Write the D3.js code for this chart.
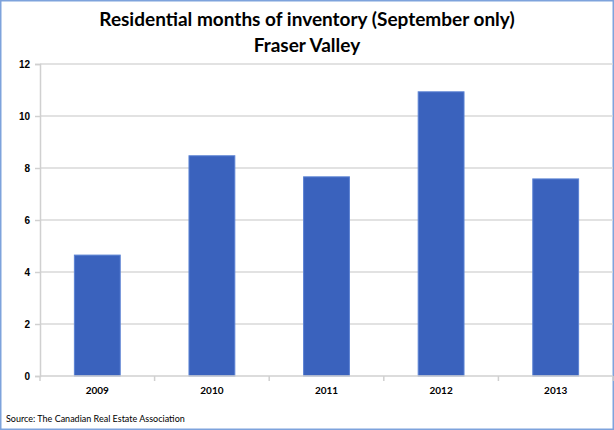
<!DOCTYPE html>
<html>
<head>
<meta charset="utf-8">
<script src="https://cdn.jsdelivr.net/npm/d3@7"></script>
<style>
    body { margin: 0; background: #fff; }
    svg { display: block; font-family: Lato, "Open Sans", sans-serif; }
</style>
</head>
<body>
<div id="wrapper"></div>
<script>
// data
const years = ['2009', '2010', '2011', '2012', '2013'];
const monthsOfInventory = [4.65, 8.47, 7.66, 10.93, 7.58];
const yTicks = [0, 2, 4, 6, 8, 10, 12];
const titleLines = ['Residential months of inventory (September only)', 'Fraser Valley'];
const sourceText = 'Source: The Canadian Real Estate Association';

function drawChart() {
    const dimensions = {
        width: 614,
        height: 430,
        margin: { top: 64, right: 1, bottom: 54, left: 40 }
    };
    dimensions.boundedWidth = dimensions.width - dimensions.margin.left - dimensions.margin.right;
    dimensions.boundedHeight = dimensions.height - dimensions.margin.top - dimensions.margin.bottom;

    const wrapper = d3.select('#wrapper')
        .append('svg')
        .attr('width', dimensions.width)
        .attr('height', dimensions.height);

    // outer frame
    wrapper.append('rect')
        .attr('x', 0.75)
        .attr('y', 0.75)
        .attr('width', dimensions.width - 1.5)
        .attr('height', dimensions.height - 1.5)
        .attr('fill', '#fff')
        .attr('stroke', '#7ea3dc')
        .attr('stroke-width', 1.5);

    const bounds = wrapper.append('g')
        .attr('transform', `translate(${dimensions.margin.left},${dimensions.margin.top})`);

    // scales
    const xScale = d3.scaleBand()
        .domain(years)
        .range([0, dimensions.boundedWidth])
        .paddingInner(0.6)
        .paddingOuter(0.3);
    const yScale = d3.scaleLinear()
        .domain([0, 12])
        .range([dimensions.boundedHeight, 0]);

    // gridlines
    bounds.append('g')
        .selectAll('line')
        .data(yTicks.slice(1))
        .join('line')
        .attr('x1', 0)
        .attr('x2', dimensions.boundedWidth)
        .attr('y1', d => yScale(d))
        .attr('y2', d => yScale(d))
        .attr('stroke', '#d9d9d9')
        .attr('stroke-width', 1.5);

    // bars
    bounds.append('g')
        .selectAll('rect')
        .data(years)
        .join('rect')
        .attr('x', d => xScale(d))
        .attr('width', xScale.bandwidth())
        .attr('y', (d, i) => yScale(monthsOfInventory[i]))
        .attr('height', (d, i) => dimensions.boundedHeight - yScale(monthsOfInventory[i]))
        .attr('fill', '#3a62bd')
        .attr('stroke', '#5b82d3')
        .attr('stroke-width', 1);

    // y axis
    const yAxis = bounds.append('g')
        .call(d3.axisLeft(yScale).tickValues(yTicks).tickSize(5).tickPadding(5));
    yAxis.select('.domain').attr('stroke', '#d0d0d0').attr('stroke-width', 1.5);
    yAxis.selectAll('.tick line').attr('stroke', '#d0d0d0').attr('stroke-width', 1.5);
    yAxis.selectAll('.tick text')
        .attr('fill', '#000')
        .style('font-size', '10px')
        .style('font-weight', 'bold');

    // x axis with ticks between categories
    const xAxis = bounds.append('g')
        .attr('transform', `translate(0,${dimensions.boundedHeight})`);
    xAxis.append('line')
        .attr('x1', 0)
        .attr('x2', dimensions.boundedWidth)
        .attr('stroke', '#d0d0d0')
        .attr('stroke-width', 1.5);
    const step = xScale.step();
    xAxis.selectAll('.sep')
        .data(d3.range(years.length + 1))
        .join('line')
        .attr('class', 'sep')
        .attr('x1', i => i * step)
        .attr('x2', i => i * step)
        .attr('y1', 0)
        .attr('y2', 5)
        .attr('stroke', '#d0d0d0')
        .attr('stroke-width', 1.5);
    xAxis.selectAll('text')
        .data(years)
        .join('text')
        .attr('x', d => xScale(d) + xScale.bandwidth() / 2)
        .attr('y', 18)
        .attr('text-anchor', 'middle')
        .attr('fill', '#000')
        .style('font-size', '10px')
        .style('font-weight', 'bold')
        .text(d => d);

    // title
    wrapper.append('g')
        .selectAll('text')
        .data(titleLines)
        .join('text')
        .attr('x', 307)
        .attr('y', (d, i) => 26 + i * 26)
        .attr('text-anchor', 'middle')
        .attr('fill', '#000')
        .style('font-size', '19px')
        .style('font-weight', 'bold')
        .text(d => d);

    // source
    wrapper.append('text')
        .attr('x', 6)
        .attr('y', 422)
        .attr('fill', '#000')
        .style('font-size', '9px')
        .text(sourceText);
}

drawChart();
</script>
</body>
</html>
